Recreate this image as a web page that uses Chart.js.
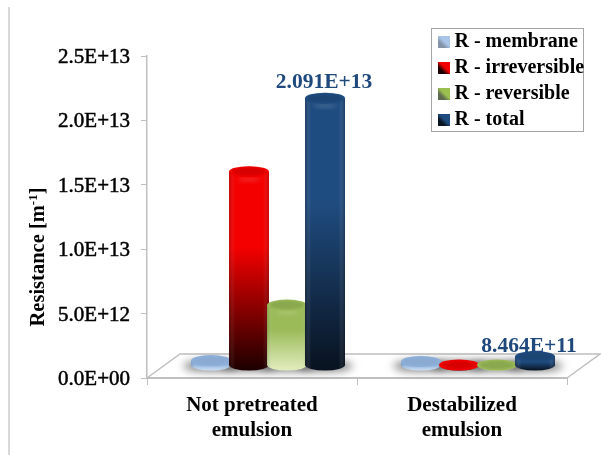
<!DOCTYPE html>
<html>
<head>
<meta charset="utf-8">
<title>Resistance</title>
<script src="https://cdn.jsdelivr.net/npm/chart.js@4"></script>
<style>
  html, body { margin: 0; padding: 0; background: #fff; }
  canvas { display: block; }
</style>
</head>
<body>
<canvas id="chart" width="601" height="455"></canvas>
<script>
const categories = [['Not pretreated', 'emulsion'], ['Destabilized', 'emulsion']];
const seriesNames = ['R - membrane', 'R - irreversible', 'R - reversible', 'R - total'];
const membraneValues = [5.4e11, 4.7e11];
const irreversibleValues = [1.52e13, 6e10];
const reversibleValues = [4.85e12, 2e10];
const totalValues = [2.091e13, 8.464e11];
const yTickLabels = ['0.0E+00', '5.0E+12', '1.0E+13', '1.5E+13', '2.0E+13', '2.5E+13'];
const yTitle = ['Resistance [m', '-1', ']'];

const serif = '"Liberation Serif", "Times New Roman", serif';
const axisGray = '#bfbfbf';
const labelBlue = '#1f497d';

// top / bottom of the body gradient, then the colour of the cap
const barColors = [
    { top: '#8db0da', bottom: '#cfe0f5', cap: '#8aaad2', side: 'rgba(40,70,110,0.18)' },
    { top: '#f40000', bottom: '#1c0000', cap: '#d80000', side: 'rgba(30,0,0,0.22)' },
    { top: '#9bbb59', bottom: '#e3edbf', cap: '#8aa84e', side: 'rgba(50,70,20,0.16)' },
    { top: '#1f4c80', bottom: '#08121f', cap: '#1c4574', side: 'rgba(0,5,15,0.30)' }
];
// upper right and lower left of each legend key
const swatchColors = [
    ['#a9c6e8', '#8493a8'],
    ['#f00000', '#1a0000'],
    ['#9bc050', '#5e6b50'],
    ['#1f4c80', '#0a1420']
];

// 3D box: how far the floor runs back
const floorDx = 33;
const floorDy = 24;
const barDx = 16;
const barDy = 12.5;
const capRy = 5.5;
const bevel = 2;
// nudges for the value labels over the total bars
const valueLabelShift = [{ dx: -1, dy: -8 }, { dx: -6, dy: -3 }];

function makeSwatch(colors) {
    const c = document.createElement('canvas');
    c.width = 12;
    c.height = 12;
    const g = c.getContext('2d');
    const grad = g.createLinearGradient(12, 0, 0, 12);
    grad.addColorStop(0, colors[0]);
    grad.addColorStop(0.45, colors[0]);
    grad.addColorStop(0.7, colors[1]);
    grad.addColorStop(1, colors[1]);
    g.fillStyle = grad;
    g.fillRect(0, 0, 12, 12);
    return c;
}
const swatches = swatchColors.map(makeSwatch);

function drawCylinder(ctx, bar, colors) {
    const cx = bar.x + barDx;
    const rx = bar.width / 2;
    const baseY = bar.base - barDy;
    const topY = Math.min(bar.y - barDy + bevel, baseY);

    // body
    ctx.beginPath();
    ctx.moveTo(cx - rx, topY);
    ctx.lineTo(cx - rx, baseY);
    ctx.ellipse(cx, baseY, rx, capRy, 0, Math.PI, 0, true);
    ctx.lineTo(cx + rx, topY);
    ctx.closePath();
    const v = ctx.createLinearGradient(0, topY, 0, baseY + capRy);
    v.addColorStop(0, colors.top);
    v.addColorStop(0.38, colors.top);
    v.addColorStop(1, colors.bottom);
    ctx.fillStyle = v;
    ctx.fill();

    const h = ctx.createLinearGradient(cx - rx, 0, cx + rx, 0);
    h.addColorStop(0, colors.side);
    h.addColorStop(0.15, 'rgba(255,255,255,0)');
    h.addColorStop(0.85, 'rgba(255,255,255,0)');
    h.addColorStop(1, colors.side);
    ctx.fillStyle = h;
    ctx.fill();

    // streak of light under the rim of the tall bars
    if (baseY - topY > 30) {
        ctx.save();
        ctx.filter = 'blur(2px)';
        ctx.beginPath();
        ctx.ellipse(cx, topY + capRy + 2, rx - 8, 1.5, 0, 0, Math.PI * 2);
        ctx.fillStyle = 'rgba(255,255,255,0.22)';
        ctx.fill();
        ctx.restore();
    }

    // cap: bright rim, darker inside
    ctx.beginPath();
    ctx.ellipse(cx, topY, rx, capRy, 0, 0, Math.PI * 2);
    ctx.fillStyle = colors.top;
    ctx.fill();
    ctx.save();
    ctx.filter = 'blur(1px)';
    ctx.beginPath();
    ctx.ellipse(cx, topY, rx - 3, capRy - 1.5, 0, 0, Math.PI * 2);
    ctx.fillStyle = colors.cap;
    ctx.fill();
    ctx.restore();
}

// axis title with a raised exponent, running up the page
function drawYTitle(ctx) {
    const bigFont = 'bold 20.5px ' + serif;
    const smallFont = 'bold 13px ' + serif;
    ctx.save();
    ctx.translate(44, 257);
    ctx.rotate(-Math.PI / 2);
    ctx.fillStyle = '#000';
    ctx.textAlign = 'left';
    ctx.textBaseline = 'alphabetic';
    ctx.font = bigFont;
    const w0 = ctx.measureText(yTitle[0]).width;
    const w2 = ctx.measureText(yTitle[2]).width;
    ctx.font = smallFont;
    const w1 = ctx.measureText(yTitle[1]).width;
    let x = -(w0 + w1 + w2) / 2;
    ctx.font = bigFont;
    ctx.fillText(yTitle[0], x, 0);
    x += w0;
    ctx.font = smallFont;
    ctx.fillText(yTitle[1], x, -7);
    x += w1;
    ctx.font = bigFont;
    ctx.fillText(yTitle[2], x, 0);
    ctx.restore();
}

const floorAndBars = {
    id: 'floorAndBars',
    beforeDraw(chart) {
        const ctx = chart.ctx;
        // page rule on the left and the legend frame
        ctx.save();
        ctx.fillStyle = '#fff';
        ctx.fillRect(0, 0, chart.width, chart.height);
        ctx.strokeStyle = '#d9d9d9';
        ctx.lineWidth = 2;
        ctx.beginPath();
        ctx.moveTo(9, 7);
        ctx.lineTo(9, chart.height);
        ctx.stroke();
        ctx.strokeStyle = '#a6a6a6';
        ctx.lineWidth = 1;
        ctx.strokeRect(431.5, 28.5, 152, 103);
        ctx.restore();
    },
    beforeDatasetsDraw(chart) {
        const ctx = chart.ctx;
        const a = chart.chartArea;
        ctx.save();
        ctx.strokeStyle = axisGray;
        ctx.lineWidth = 1.5;
        ctx.beginPath();
        ctx.moveTo(a.left, a.bottom);
        ctx.lineTo(a.left + floorDx, a.bottom - floorDy);
        ctx.lineTo(a.right + floorDx, a.bottom - floorDy);
        ctx.lineTo(a.right, a.bottom);
        ctx.stroke();

        // soft contact shadows on the floor
        ctx.filter = 'blur(4px)';
        ctx.fillStyle = 'rgba(0,0,0,0.5)';
        chart.data.datasets.forEach((ds, i) => {
            chart.getDatasetMeta(i).data.forEach(bar => {
                ctx.beginPath();
                ctx.ellipse(bar.x + barDx, bar.base - barDy + 1, bar.width / 2 + 8, capRy, 0, 0, Math.PI * 2);
                ctx.fill();
            });
        });
        ctx.restore();
    },
    afterDatasetsDraw(chart) {
        const ctx = chart.ctx;
        ctx.save();
        chart.data.datasets.forEach((ds, i) => {
            chart.getDatasetMeta(i).data.forEach(bar => drawCylinder(ctx, bar, barColors[i]));
        });

        // value labels over the total bars
        const last = chart.data.datasets.length - 1;
        ctx.font = 'bold 21.5px ' + serif;
        ctx.fillStyle = labelBlue;
        ctx.textAlign = 'center';
        ctx.textBaseline = 'alphabetic';
        chart.getDatasetMeta(last).data.forEach((bar, i) => {
            const text = totalValues[i].toExponential(3).toUpperCase();
            const shift = valueLabelShift[i];
            ctx.fillText(text, bar.x + barDx + shift.dx, bar.y - barDy + shift.dy);
        });
        ctx.restore();

        drawYTitle(ctx);
    }
};

// the legend sits over the plot, in the top right corner
const placeLegend = {
    id: 'placeLegend',
    afterLayout(chart) {
        const l = chart.legend;
        const w = l.width;
        const h = l.height;
        l.left = 437.5;
        l.top = 26;
        l.right = l.left + w;
        l.bottom = l.top + h;
    }
};

new Chart(document.getElementById('chart'), {
    type: 'bar',
    data: {
        labels: categories,
        datasets: [
            { label: seriesNames[0], data: membraneValues },
            { label: seriesNames[1], data: irreversibleValues },
            { label: seriesNames[2], data: reversibleValues },
            { label: seriesNames[3], data: totalValues }
        ]
    },
    plugins: [floorAndBars, placeLegend],
    options: {
        responsive: false,
        animation: false,
        layout: { padding: { left: 0, right: 34, top: 56, bottom: 0 } },
        datasets: {
            bar: {
                backgroundColor: 'rgba(0,0,0,0)',
                borderWidth: 0,
                categoryPercentage: 0.724,
                barPercentage: 1.05
            }
        },
        plugins: {
            colors: { enabled: false },
            tooltip: { enabled: false },
            legend: {
                position: 'chartArea',
                align: 'start',
                labels: {
                    color: '#000',
                    font: { family: serif, size: 20, weight: 'bold', lineHeight: 1 },
                    padding: 6,
                    boxWidth: 1,
                    usePointStyle: true,
                    generateLabels: chart => chart.data.datasets.map((ds, i) => ({
                        text: ds.label,
                        pointStyle: swatches[i],
                        datasetIndex: i,
                        hidden: false
                    }))
                }
            }
        },
        scales: {
            x: {
                afterFit: s => { s.height = 77; },
                border: { color: axisGray, width: 2 },
                grid: { color: axisGray, drawOnChartArea: false, tickLength: 7 },
                ticks: {
                    color: '#000',
                    maxRotation: 0,
                    autoSkip: false,
                    padding: 8,
                    font: { family: serif, size: 21, weight: 'bold', lineHeight: 1.2 }
                }
            },
            y: {
                min: 0,
                max: 2.5e13,
                afterFit: s => { s.width = 147; },
                border: { color: axisGray, width: 1.5 },
                grid: { color: axisGray, drawOnChartArea: false, tickLength: 6 },
                ticks: {
                    stepSize: 5e12,
                    color: '#000',
                    padding: 11,
                    labelOffset: 1.5,
                    textStrokeColor: '#000',
                    textStrokeWidth: 0.5,
                    font: { family: serif, size: 21 },
                    callback: (value, index) => yTickLabels[index]
                }
            }
        }
    }
});
</script>
</body>
</html>
